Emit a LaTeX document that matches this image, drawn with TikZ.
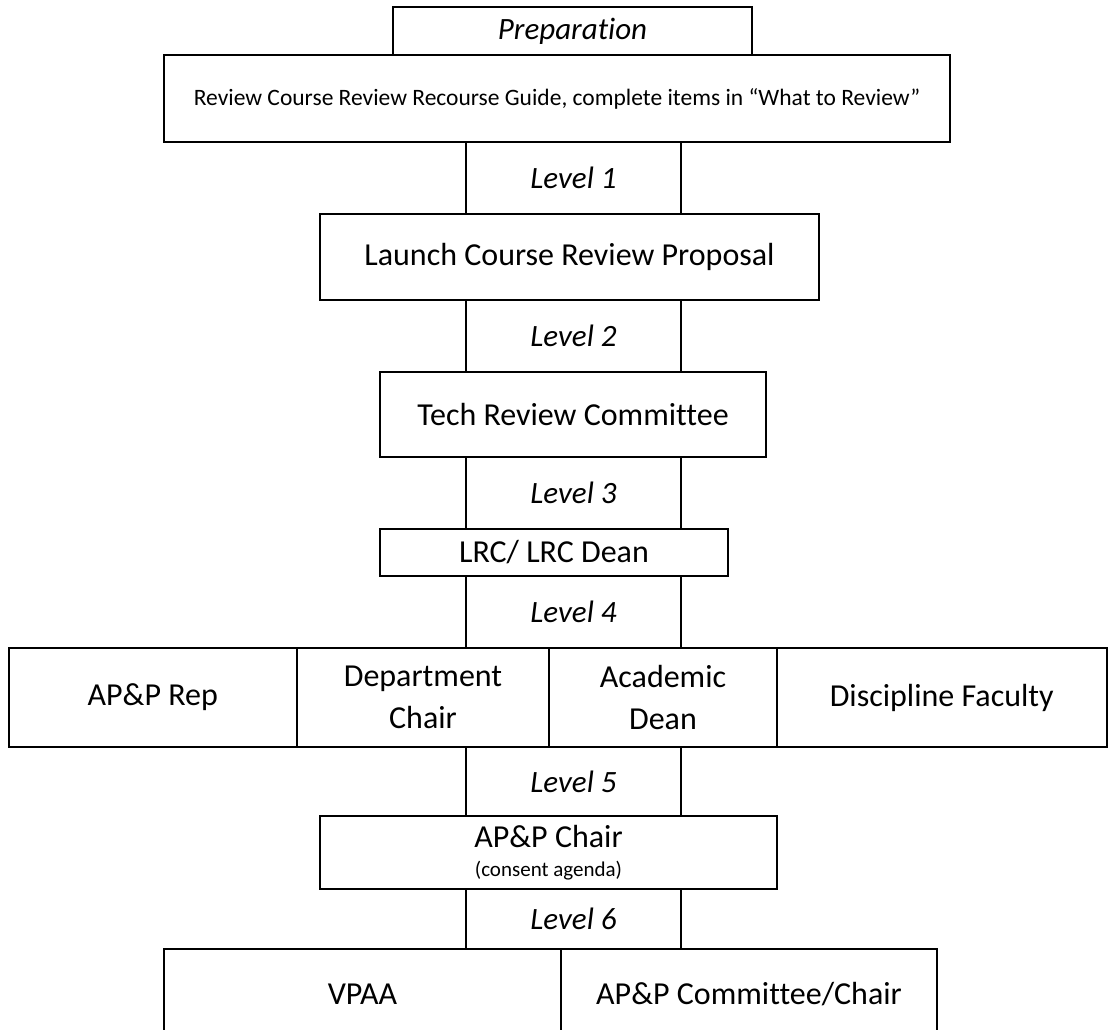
\documentclass[tikz,border=0pt]{standalone}
\usepackage{fontspec}
\setmainfont{Carlito}[Ligatures=NoCommon]
\begin{document}
\begin{tikzpicture}[x=1pt,y=-1pt,
  box/.style={draw,line width=1.6pt,rectangle,inner sep=0pt,align=center,font=\fontsize{32}{42}\selectfont},
  lvl/.style={inner sep=0pt,font=\fontsize{31}{36}\selectfont\itshape},
  side/.style={line width=1.6pt}]
\useasboundingbox (0,0) rectangle (1108,1030);
\clip (0,0) rectangle (1108,1030);
% preparation
\node[box,minimum width=359pt,minimum height=48pt,font=\fontsize{31}{36}\selectfont\itshape] (prep) at (572.5,31) {Preparation};
\node[box,minimum width=786pt,minimum height=87pt,font=\fontsize{23.5}{28}\selectfont] (review) at (557,98.5) {Review Course Review Recourse Guide, complete items in “What to Review”};
% levels and boxes
\node[lvl,minimum width=215pt,minimum height=72pt] (l1) at (573.5,178) {Level 1};
\node[box,minimum width=499pt,minimum height=86pt] (launch) at (569.5,257) {Launch Course Review Proposal};
\node[lvl,minimum width=215pt,minimum height=72pt] (l2) at (573.5,336) {Level 2};
\node[box,minimum width=386pt,minimum height=85pt] (tech) at (573,414.5) {Tech Review Committee};
\node[lvl,minimum width=215pt,minimum height=72pt] (l3) at (573.5,493) {Level 3};
\node[box,minimum width=348pt,minimum height=47pt] (lrc) at (554,552.5) {LRC/ LRC Dean};
\node[lvl,minimum width=215pt,minimum height=72pt] (l4) at (573.5,612) {Level 4};
% row of four
\node[box,line width=2pt,minimum width=288.5pt,minimum height=99pt] (c1) at (152.75,697.5) {AP\&P Rep};
\node[box,line width=2pt,minimum width=252pt,minimum height=99pt] (c2) at (423,697.5) {Department\\Chair};
\node[box,line width=2pt,minimum width=228pt,minimum height=99pt] (c3) at (663,697.5) {Academic\\Dean};
\node[box,line width=2pt,minimum width=329.5pt,minimum height=99pt] (c4) at (941.75,697.5) {Discipline Faculty};
\node[lvl,minimum width=215pt,minimum height=69pt] (l5) at (573.5,781.5) {Level 5};
\node[box,minimum width=457pt,minimum height=73pt] (chair) at (548.5,852.5) {AP\&P Chair\\[-13pt]{\fontsize{21}{25}\selectfont (consent agenda)}};
\node[lvl,minimum width=215pt,minimum height=60pt] (l6) at (573.5,919) {Level 6};
\node[box,minimum width=397pt,minimum height=90pt] (v1) at (362.5,994) {VPAA};
\node[box,minimum width=376pt,minimum height=90pt] (v2) at (749,994) {AP\&P Committee/Chair};
% connector sides
\foreach \n in {l1,l2,l3,l4,l5,l6}{
  \draw[side] (\n.north west) -- (\n.south west) (\n.north east) -- (\n.south east);
}
\end{tikzpicture}
\end{document}
